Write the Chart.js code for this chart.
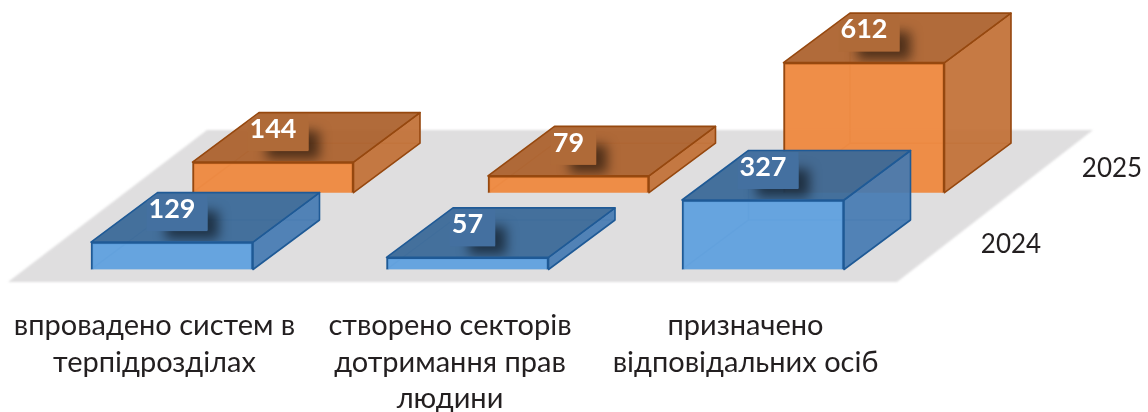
<!DOCTYPE html>
<html><head><meta charset="utf-8">
<style>html,body{margin:0;padding:0;background:#fff}#w{position:relative;width:1148px;height:412px}</style>
<script src="https://cdn.jsdelivr.net/npm/chart.js@4"></script>
</head><body><div id="w"><canvas id="c" width="1148" height="412"></canvas></div>
<script>
const categories = [
  ['впровадено систем в','терпідрозділах'],
  ['створено секторів','дотримання прав','людини'],
  ['призначено','відповідальних осіб']
];
const series2024 = [129, 57, 327];
const series2025 = [144, 79, 612];
const seriesNames = ['2024','2025'];

const FONT = 'Lato, "Open Sans", sans-serif';
const PX_PER_UNIT = 0.2125, BASE_24 = 269.5, BASE_25 = 192.7;
const STEP = 295.5, LEFT = 24.25, SHIFT = 101;
const DEPTH = {x:66.5, y:-49.5};
const styles = {
  '2024': {top:'rgba(58,105,152,0.94)', side:'rgba(68,122,178,0.92)', hidden:'rgba(30,85,145,0.35)', line:'#1f5a96', box:'#4470a0'},
  '2025': {top:'rgba(172,98,46,0.94)', side:'rgba(194,112,54,0.93)', hidden:'rgba(150,72,20,0.4)', line:'#96480f', box:'#af6a38'}
};

const box3d = {
  id:'box3d',
  beforeDatasetsDraw(chart){
    const a = chart.chartArea, ctx = chart.ctx, fb = a.bottom + 12.5, bk = a.bottom - 139.5;
    ctx.save();
    ctx.filter = 'blur(1px)';
    ctx.fillStyle = '#dfdedf';
    ctx.beginPath();
    ctx.moveTo(8, fb); ctx.lineTo(897, fb); ctx.lineTo(1093, bk); ctx.lineTo(207, bk);
    ctx.closePath(); ctx.fill();
    ctx.restore();
  },
  beforeDatasetDraw(chart, args){
    const ctx = chart.ctx, st = styles[chart.data.datasets[args.index].label];
    ctx.save();
    ctx.strokeStyle = st.hidden; ctx.lineWidth = 1.5;
    args.meta.data.forEach(el=>{
      const l = el.x-el.width/2, r = el.x+el.width/2;
      ctx.beginPath();
      ctx.moveTo(l, el.base); ctx.lineTo(l+DEPTH.x, el.base+DEPTH.y);
      ctx.lineTo(r+DEPTH.x, el.base+DEPTH.y);
      ctx.moveTo(l+DEPTH.x, el.base+DEPTH.y); ctx.lineTo(l+DEPTH.x, el.y+DEPTH.y);
      ctx.stroke();
    });
    ctx.restore();
  },
  afterDatasetDraw(chart, args){
    const ctx = chart.ctx, ds = chart.data.datasets[args.index], st = styles[ds.label];
    ctx.save();
    ctx.lineJoin = 'round';
    args.meta.data.forEach((el,i)=>{
      const l = el.x-el.width/2, r = el.x+el.width/2, t = el.y, b = el.base;
      const poly = (pts,fill)=>{
        ctx.beginPath();
        pts.forEach((p,k)=> k?ctx.lineTo(p[0],p[1]):ctx.moveTo(p[0],p[1]));
        ctx.closePath();
        ctx.fillStyle = fill; ctx.fill();
        ctx.strokeStyle = st.line; ctx.lineWidth = 1.6; ctx.stroke();
      };
      poly([[r,t],[r+DEPTH.x,t+DEPTH.y],[r+DEPTH.x,b+DEPTH.y],[r,b]], st.side);
      poly([[l,t],[r,t],[r+DEPTH.x,t+DEPTH.y],[l+DEPTH.x,t+DEPTH.y]], st.top);
      // value label on its shaded tag, kept inside the top face
      const lx = el.x, ly = t-34, txt = String(ds.data[i].y);
      ctx.font = 'bold 27px '+FONT;
      const tw = ctx.measureText(txt).width;
      ctx.save();
      ctx.beginPath();
      ctx.moveTo(l+1,t-1); ctx.lineTo(r,t-1); ctx.lineTo(r+DEPTH.x-1,t+DEPTH.y+1); ctx.lineTo(l+DEPTH.x,t+DEPTH.y+1);
      ctx.closePath(); ctx.clip();
      ctx.save();
      ctx.shadowColor = 'rgba(0,0,0,0.55)'; ctx.shadowBlur = 12; ctx.shadowOffsetX = 11; ctx.shadowOffsetY = 9;
      ctx.fillStyle = st.box;
      ctx.fillRect(lx-tw/2+6, ly-6, tw+6, 28);
      ctx.restore();
      ctx.fillStyle = st.box;
      ctx.fillRect(lx-tw/2-2, ly-14, tw+14, 37);
      ctx.restore();
      ctx.fillStyle = '#fff'; ctx.textAlign = 'center'; ctx.textBaseline = 'middle';
      ctx.fillText(txt, lx, ly+1);
    });
    // series name on the depth axis
    const last = args.meta.data[args.meta.data.length-1];
    ctx.fillStyle = '#231f20'; ctx.font = '26px '+FONT;
    ctx.textAlign = 'center'; ctx.textBaseline = 'middle';
    ctx.fillText(ds.label, last.x+248, last.base-24.5);
    ctx.restore();
  }
};

const pts = vals => vals.map((v,i)=>({x:i,y:v}));
new Chart(document.getElementById('c'),{
  type:'bar',
  data:{
    labels:categories,
    datasets:[
      {label:seriesNames[0], data:series2024.map((v,i)=>({x:categories[i],y:v})), xAxisID:'x', yAxisID:'y', grouped:false,
       backgroundColor:'rgba(95,160,222,0.95)', borderColor:styles['2024'].line, borderWidth:2, barThickness:162, clip:false},
      {label:seriesNames[1], data:pts(series2025), xAxisID:'x2', yAxisID:'y2', grouped:false,
       backgroundColor:'rgba(238,136,62,0.95)', borderColor:styles['2025'].line, borderWidth:2, barThickness:161, clip:false}
    ]
  },
  options:{
    responsive:false, animation:false, parsing:{xAxisKey:'x',yAxisKey:'y'},
    layout:{padding:{left:LEFT,right:1148-LEFT-3*STEP,top:0,bottom:0}},
    plugins:{legend:{display:false},tooltip:{enabled:false}},
    scales:{
      x:{type:'category',offset:true,grid:{display:false},border:{display:false},
         afterFit(s){s.height=412-BASE_24;s.paddingLeft=0;s.paddingRight=0;},
         ticks:{autoSkip:false,maxRotation:0,minRotation:0,padding:29.5,labelOffset:-17.5,color:'#231f20',
                font:{family:FONT,size:29,lineHeight:1.27}}},
      x2:{type:'linear',display:false,offset:false,grid:{offset:false},min:-(SHIFT+STEP/2)/STEP,max:3-(SHIFT+STEP/2)/STEP},
      y:{display:false,min:0,max:BASE_24/PX_PER_UNIT},
      y2:{display:false,min:-(BASE_24-BASE_25)/PX_PER_UNIT,max:BASE_25/PX_PER_UNIT}
    }
  },
  plugins:[box3d]
});
</script></body></html>
